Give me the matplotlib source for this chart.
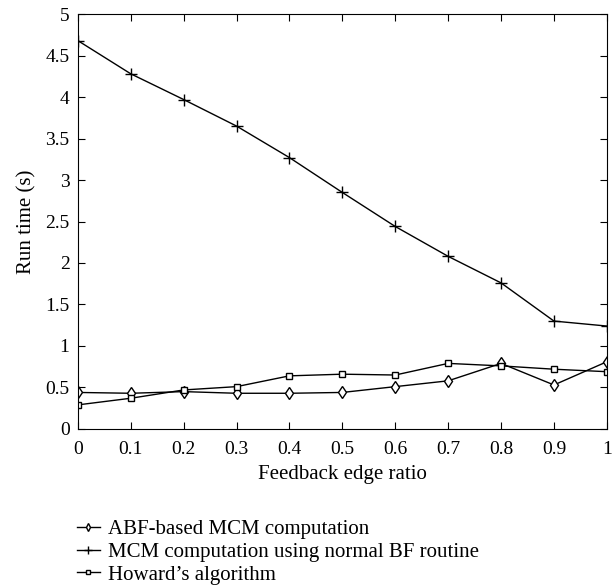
import matplotlib.pyplot as plt
import numpy as np

plt.rcParams['font.family'] = ['Liberation Serif', 'DejaVu Serif']

ratio = [0.0, 0.1, 0.2, 0.3, 0.4, 0.5, 0.6, 0.7, 0.8, 0.9, 1.0]
abf = [0.44, 0.43, 0.45, 0.43, 0.43, 0.44, 0.51, 0.58, 0.79, 0.53, 0.81]
bf = [4.68, 4.28, 3.97, 3.65, 3.27, 2.85, 2.44, 2.08, 1.76, 1.30, 1.24]
howard = [0.29, 0.37, 0.47, 0.51, 0.64, 0.66, 0.65, 0.79, 0.76, 0.72, 0.69]

fig = plt.figure(figsize=(6.13, 5.86), dpi=100)
ax = fig.add_axes([0.127, 0.268, 0.863, 0.708])

ax.plot(ratio, abf, 'k-', marker='d', mfc='white', ms=6, lw=1,
        label='ABF-based MCM computation')
ax.plot(ratio, bf, 'k-', marker='+', ms=8, lw=1,
        label='MCM computation using normal BF routine')
ax.plot(ratio, howard, 'k-', marker='s', mfc='white', ms=5, lw=1,
        label="Howard\u2019s algorithm")

ax.set_xlim(0, 1)
ax.set_ylim(0, 5)
ax.set_xticks(np.arange(0, 1.01, 0.1))
ax.set_xticklabels(['0', '0.1', '0.2', '0.3', '0.4', '0.5', '0.6', '0.7', '0.8', '0.9', '1'])
ax.set_yticks(np.arange(0, 5.01, 0.5))
ax.set_yticklabels(['0', '0.5', '1', '1.5', '2', '2.5', '3', '3.5', '4', '4.5', '5'])
ax.tick_params(direction='in', top=True, right=True, labelsize=14, length=5, pad=6)
ax.tick_params(axis='x', pad=9)
ax.set_xlabel('Feedback edge ratio', fontsize=15, labelpad=5)
ax.set_ylabel('Run time (s)', fontsize=15, labelpad=6)

fig.legend(loc='upper left', bbox_to_anchor=(0.125, 0.113), frameon=False,
           fontsize=15, handlelength=1.1, handletextpad=0.4, labelspacing=0.15,
           markerscale=0.65, borderpad=0, borderaxespad=0)

fig.savefig('out.png', dpi=100)
